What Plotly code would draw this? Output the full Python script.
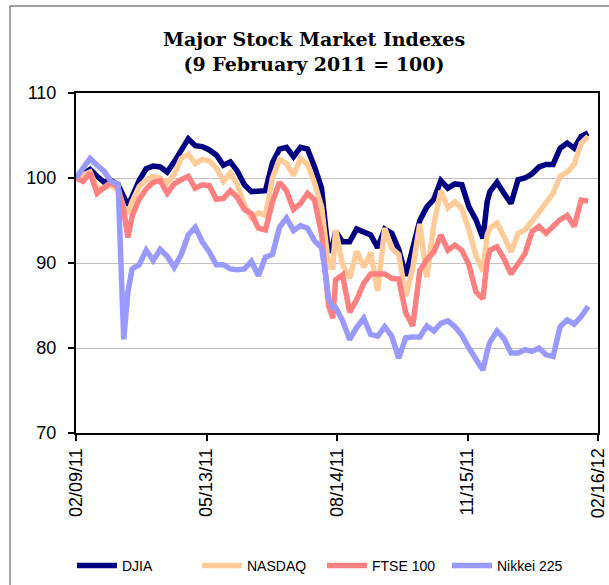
import plotly.graph_objects as go

dates = ["2011-02-09","2011-02-14","2011-02-19","2011-02-24","2011-03-01","2011-03-06","2011-03-11","2011-03-15","2011-03-18","2011-03-21",
         "2011-03-26","2011-03-31","2011-04-05","2011-04-10","2011-04-15","2011-04-20","2011-04-25","2011-04-30","2011-05-05","2011-05-10",
         "2011-05-15","2011-05-20","2011-05-25","2011-05-30","2011-06-04","2011-06-09","2011-06-14","2011-06-19","2011-06-24","2011-06-29",
         "2011-07-04","2011-07-09","2011-07-14","2011-07-19","2011-07-24","2011-07-29","2011-08-03","2011-08-06","2011-08-08","2011-08-11",
         "2011-08-13","2011-08-18","2011-08-23","2011-08-28","2011-09-02","2011-09-07","2011-09-12","2011-09-17","2011-09-22","2011-09-27",
         "2011-10-02","2011-10-07","2011-10-12","2011-10-17","2011-10-22","2011-10-27","2011-11-01","2011-11-06","2011-11-11","2011-11-16",
         "2011-11-21","2011-11-26","2011-11-29","2011-12-01","2011-12-06","2011-12-11","2011-12-16","2011-12-21","2011-12-26","2011-12-31",
         "2012-01-05","2012-01-10","2012-01-15","2012-01-20","2012-01-25","2012-01-30","2012-02-04","2012-02-09"]

djia = [100, 100.5, 101.0, 100.2, 99.5, 99.7, 99.2, 97.8, 96.8, 97.8,
        99.7, 101.1, 101.4, 101.3, 100.7, 101.9, 103.3, 104.6, 103.8, 103.7,
        103.3, 102.7, 101.5, 101.9, 100.8, 99.2, 98.4, 98.4, 98.5, 101.8,
        103.4, 103.6, 102.5, 103.6, 103.4, 101.3, 98.8, 94.0, 91.3, 92.1,
        93.7, 92.5, 92.5, 94.0, 93.7, 93.3, 91.8, 94.0, 93.5, 91.6,
        88.5, 91.6, 95.0, 96.6, 97.5, 99.7, 98.8, 99.3, 99.2, 96.6,
        95.1, 92.9, 97.2, 98.4, 99.5, 98.2, 97.0, 99.8, 100.0, 100.5,
        101.3, 101.6, 101.6, 103.5, 104.1, 103.5, 104.9, 105.3]

nasdaq = [100, 100.3, 100.7, 98.8, 98.8, 99.2, 98.5, 96.6, 95.8, 97.2,
          99.0, 99.8, 100.2, 100.0, 99.4, 100.4, 102.3, 102.8, 101.7, 102.2,
          102.0, 101.2, 99.6, 100.6, 99.2, 96.8, 95.3, 95.9, 95.6, 100.0,
          102.2, 101.7, 100.3, 102.3, 101.6, 99.4, 96.6, 92.5, 89.5, 89.5,
          93.9, 89.8, 88.2, 91.4, 89.5, 91.2, 86.7, 94.1, 91.7, 91.0,
          86.1, 89.4, 94.6, 88.3, 94.6, 98.5, 96.5, 97.2, 96.4, 93.9,
          90.9, 89.0, 93.3, 94.1, 94.7, 93.1, 91.3, 93.5, 93.9, 94.9,
          96.0, 96.9, 98.2, 100.2, 100.7, 101.6, 104.1, 104.9]

ftse = [100, 99.6, 100.6, 98.2, 98.9, 99.5, 98.9, 96.2, 93.0, 95.5,
        97.5, 98.7, 99.5, 99.7, 98.2, 99.3, 99.8, 100.2, 98.8, 99.2,
        99.1, 97.5, 97.6, 98.5, 97.7, 96.3, 95.8, 94.1, 93.9, 97.2,
        99.5, 98.5, 96.3, 97.0, 98.2, 97.4, 93.4, 88.0, 85.0, 83.5,
        88.0, 88.6, 84.2, 85.7, 87.6, 88.7, 88.7, 88.7, 88.2, 88.1,
        84.1, 82.6, 89.1, 90.4, 91.3, 93.3, 91.5, 92.1, 91.5, 89.8,
        86.6, 85.8, 90.2, 91.5, 91.9, 90.5, 88.7, 89.8, 91.1, 93.7,
        94.3, 93.5, 94.3, 95.1, 95.6, 94.3, 97.4, 97.3]

nikkei = [100, 101.1, 102.3, 101.5, 100.8, 99.6, 99.3, 81.0, 86.6, 89.3,
          89.8, 91.5, 90.3, 91.6, 90.8, 89.5, 91.0, 93.3, 94.2, 92.5,
          91.3, 89.8, 89.8, 89.3, 89.2, 89.3, 90.2, 88.5, 90.7, 91.0,
          94.2, 95.3, 93.8, 94.4, 94.1, 92.6, 91.8, 88.5, 85.8, 84.8,
          84.8, 83.2, 81.0, 82.4, 83.5, 81.6, 81.4, 82.5, 81.4, 78.8,
          81.2, 81.3, 81.3, 82.6, 82.0, 82.9, 83.2, 82.5, 81.5, 80.0,
          78.6, 77.4, 79.6, 80.7, 82.0, 81.1, 79.4, 79.4, 79.8, 79.6,
          80.0, 79.2, 79.0, 82.5, 83.3, 82.8, 83.7, 84.9]

series_names = ["DJIA", "NASDAQ", "FTSE 100", "Nikkei 225"]
series_colors = ["#000080", "#FFCC99", "#FF8080", "#9999FF"]
tick_dates = ["2011-02-09", "2011-05-13", "2011-08-14", "2011-11-15", "2012-02-16"]
y_ticks = [70, 80, 90, 100, 110]

fig = go.Figure()
for name, vals, col in zip(series_names, [djia, nasdaq, ftse, nikkei], series_colors):
    fig.add_trace(go.Scatter(x=dates, y=vals, mode="lines", name=name,
                             line=dict(color=col, width=5.5)))

W, H = 609, 585
L, R, T, B = 76, 11, 93, 152
pw, ph = W - L - R, H - T - B

def px_x(p):
    return (p - L) / pw

def px_y(p):
    return (H - B - p) / ph

fig.update_layout(
    width=W, height=H,
    margin=dict(l=L, r=R, t=T, b=B, autoexpand=False),
    paper_bgcolor="white", plot_bgcolor="white",
    font=dict(family="Liberation Sans, Arial, sans-serif", color="black"),
    title=dict(text="<b>Major Stock Market Indexes<br>(9 February 2011 = 100)</b>",
               x=314 / W, xanchor="center", xref="container",
               y=1 - 46 / H, yanchor="top", yref="container",
               font=dict(family="DejaVu Serif, serif", size=19, color="black")),
    showlegend=True,
    legend=dict(orientation="h", x=322 / W, xanchor="center", xref="container",
                y=1 - 566 / H, yanchor="middle", yref="container",
                font=dict(size=14), itemwidth=40, traceorder="normal",
                entrywidth=70, entrywidthmode="pixels"),
    xaxis=dict(type="date", range=["2011-02-09", "2012-02-16"],
               tickvals=tick_dates, tickformat="%m/%d/%y", tickangle=-90,
               ticks="outside", ticklen=6, tickcolor="black", tickwidth=1.5,
               tickfont=dict(size=18), automargin=False,
               showgrid=False, showline=True, linecolor="black", linewidth=2, mirror=True,
               zeroline=False),
    yaxis=dict(range=[70, 110], tickvals=y_ticks,
               ticks="outside", ticklen=6, tickcolor="black", tickwidth=1.5,
               tickfont=dict(size=18), automargin=False, ticklabelstandoff=8,
               showgrid=True, gridcolor="#C0C0C0", gridwidth=1,
               showline=True, linecolor="black", linewidth=2, mirror=True,
               zeroline=False),
    shapes=[dict(type="rect", xref="paper", yref="paper",
                 x0=px_x(10), x1=px_x(640), y0=px_y(640), y1=px_y(6),
                 line=dict(color="#404040", width=1), fillcolor="rgba(0,0,0,0)", layer="below")],
)

fig.write_html("out.html", post_script="document.body.style.margin='0px';",
               config={"displayModeBar": False})
